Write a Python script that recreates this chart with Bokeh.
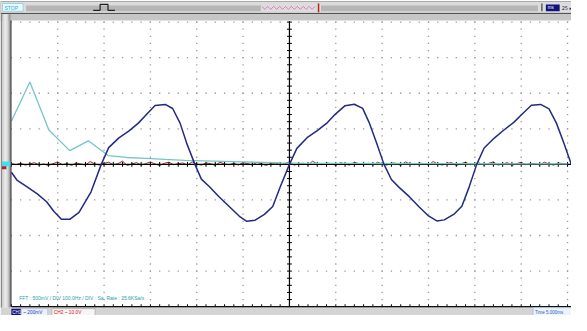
import numpy as np
from bokeh.plotting import figure
from bokeh.models import Range1d
from bokeh.core.properties import value
from bokeh.embed import file_html
from bokeh.resources import INLINE

# ---------------- data ----------------
ch1_time_ms = [-30.0, -29.4, -28.3, -27.2, -26.2, -25.4, -24.6, -23.7, -22.7, -21.4,
               -20.3, -19.5, -18.4, -17.3, -16.3, -15.5, -14.5, -13.4, -12.6, -11.8,
               -11.1, -10.2, -9.5, -8.6, -7.6, -6.5, -5.4, -4.6, -3.7, -2.7,
               -1.8, -1.0, 0.0,
               0.8, 1.9, 3.0, 4.1, 4.9, 6.0, 7.0, 7.9, 8.6, 9.4,
               10.2, 11.0, 11.8, 12.9, 14.0, 15.0, 15.9, 16.7, 17.8, 18.6,
               19.4, 20.2,
               21.0, 22.1, 23.1, 24.2, 25.0, 26.1, 27.1, 28.0, 28.8, 29.6, 30.4]
ch1_mv = [-44, -88, -127, -166, -210, -265, -309, -309, -270, -154,
          0, 94, 149, 188, 232, 276, 331, 337, 314, 232,
          121, 0, -83, -127, -182, -237, -292, -320, -314, -281,
          -237, -127, 0,
          90, 150, 190, 235, 280, 330, 338, 315, 235, 120,
          0, -85, -128, -180, -240, -290, -318, -312, -278, -235,
          -125, 0,
          92, 148, 192, 236, 278, 332, 337, 312, 232, 120, 0]

fft_freq_hz = [0, 40, 81, 126, 166, 209, 249, 291, 332, 374, 415, 457, 498, 540, 581,
               622, 664, 705, 747, 788, 830, 871, 913, 954, 996, 1037, 1079, 1120, 1162, 1200]
fft_mv = [607, 1159, 483, 193, 331, 124, 97, 83, 69, 55, 48, 41, 34, 28, 21,
          17, 15, 14, 13, 12, 12, 11, 10, 10, 9, 9, 8, 8, 8, 7]

ch2_volts = [0.2, -0.1, 0.3, -0.2, 0.1, 0.5, -0.2, 0.1, -0.3, 0.2,
             0.7, -0.1, 0.2, -0.3, 0.4, 0.1, -0.2, 0.8, 0.1, -0.2,
             0.3, 0.6, -0.1, 0.2, 0.9, -0.3, 0.1, 0.5, -0.2, 0.2,
             0.7, 0.1, -0.3, 0.3, 0.6, -0.1, 0.2, 0.4, -0.2, 0.7,
             0.1, -0.2, 0.4, 0.2, -0.3, 0.6, 0.1, -0.1, 0.3, -0.2,
             0.5, 0.2, -0.2, 0.6, 0.1, -0.3, 0.3, 0.4, -0.1, 0.2,
             0.7, -0.2, 0.1, 0.3, -0.2, 0.9, 0.1, -0.1, 0.4, 0.2,
             -0.3, 0.5, 0.1, -0.2, 0.6, 0.2, -0.1, 0.3, -0.2, 0.6,
             0.1, -0.2, 0.4, 0.3, -0.3, 0.7, 0.1, -0.1, 0.4, 0.2,
             -0.2, 0.8, 0.1, -0.2, 0.3, 0.5, -0.3, 0.2, 0.6, -0.1,
             0.2, 0.4, -0.2, 0.3, 0.7, -0.2, 0.1, 0.5, -0.3, 0.2,
             0.6, -0.1, 0.3, 0.2, -0.2, 0.6, 0.1, -0.2, 0.4, 0.2, 0.1]
ch2_time_ms = np.linspace(-30, 30, len(ch2_volts))

fft_label = "FFT : 500mV / DIV    100.0Hz / DIV  :  Sa. Rate : 25.6KSa/s"
ch1_label = "~ 200mV"
ch2_label = "CH2 ~ 10.0V"
time_label = "Time 5.000ms"

TIME_PER_DIV = 5.0      # ms / div
CH1_PER_DIV = 200.0     # mV / div
CH2_PER_DIV = 10.0      # V / div
FFT_V_PER_DIV = 500.0   # mV / div
FFT_F_PER_DIV = 100.0   # Hz / div

# ---------------- screen geometry (reference pixels) ----------------
GX0, GDX, GY0, GDY = 19.0, 47.0, 177.0, 36.25


def dx(r):
    return (r - GX0) / GDX


def dy(r):
    return (GY0 - r) / GDY


XL, XR = dx(8), dx(587)
YB, YT = dy(331), dy(10)

p = figure(width=571, height=315, x_range=Range1d(XL, XR), y_range=Range1d(YB, YT),
           output_backend="svg", toolbar_location=None, min_border=0,
           x_axis_location=None, y_axis_location=None)
p.grid.visible = False
p.outline_line_color = None
p.background_fill_color = "white"
p.border_fill_color = "white"

p.extra_x_ranges = {
    "time": Range1d((XL - 6) * TIME_PER_DIV, (XR - 6) * TIME_PER_DIV),
    "freq": Range1d(XL * FFT_F_PER_DIV, XR * FFT_F_PER_DIV),
}
p.extra_y_ranges = {
    "ch1": Range1d(YB * CH1_PER_DIV, YT * CH1_PER_DIV),
    "ch2": Range1d(YB * CH2_PER_DIV, YT * CH2_PER_DIV),
    "fft": Range1d(YB * FFT_V_PER_DIV, YT * FFT_V_PER_DIV),
}

# ---------------- dotted graticule ----------------
minor_x = np.round(np.arange(0, 12.001, 0.2), 3)
minor_y = np.round(np.arange(-4, 4.001, 0.2), 3)
dots_x, dots_y = [], []
for yl in range(-3, 5):
    if yl == 0:
        continue
    dots_x += list(minor_x)
    dots_y += [yl] * len(minor_x)
for xl in range(1, 13):
    if xl == 6:
        continue
    dots_x += [xl] * len(minor_y)
    dots_y += list(minor_y)
p.scatter(dots_x, dots_y, marker="square", size=1.3, fill_color="#9a9a9a", line_color=None)

# ---------------- traces ----------------
p.line(ch2_time_ms, ch2_volts, x_range_name="time", y_range_name="ch2",
       line_color="#a02a24", line_width=1)

# center axes with ticks
p.segment(x0=[0], y0=[0], x1=[XR], y1=[0], line_color="black", line_width=1.2)
p.segment(x0=[6], y0=[dy(31)], x1=[6], y1=[-4], line_color="black", line_width=1.2)
tx = 2.5 / GDX
ty = 2.5 / GDY
p.segment(x0=minor_x, y0=-ty, x1=minor_x, y1=ty, line_color="black", line_width=1)
p.segment(x0=6 - tx, y0=minor_y, x1=6 + tx, y1=minor_y, line_color="black", line_width=1)

p.line(fft_freq_hz, fft_mv, x_range_name="freq", y_range_name="fft",
       line_color="#74c6c6", line_width=1.3)
p.line(ch1_time_ms, ch1_mv, x_range_name="time", y_range_name="ch1",
       line_color="#232a82", line_width=1.5)

# ---------------- chrome ----------------
def box(l, r, t, b, fill, line=None, lw=1):
    p.quad(left=dx(l), right=dx(r), top=dy(t), bottom=dy(b), fill_color=fill,
           line_color=line, line_width=lw)


def hline(x0, x1, y, color, lw=1):
    p.segment(x0=[dx(x0)], y0=[dy(y)], x1=[dx(x1)], y1=[dy(y)], line_color=color, line_width=lw)


def vline(x, y0, y1, color, lw=1):
    p.segment(x0=[dx(x)], y0=[dy(y0)], x1=[dx(x)], y1=[dy(y1)], line_color=color, line_width=lw)


def label(x, y, s, color, size="5px", font="Liberation Sans"):
    p.text(x=[dx(x)], y=[dy(y)], text=[s], text_font=value(font), text_font_size=size,
           text_color=color, text_baseline="middle", text_align="left")


# top bar
box(8, 587, 11, 23, "#dcdcdc", "#a8a8a8")
hline(8, 587, 23.5, "#303030", 1.2)
box(8, 587, 24, 31, "#c6c6c6")
hline(19, 587, 30.5, "#e6e6e6", 1)
box(10, 31, 13, 21, "#eaf7fb", "#9ad4e6")
label(12, 17.2, "STOP", "#2ab0d8", "5px")
box(34, 272, 14, 21, "#b6b6b6")
hline(34, 272, 14.5, "#e4e4e4")
pulse_x = [102, 109, 109, 117, 117, 124]
pulse_y = [20, 20, 14, 14, 20, 20]
p.line([dx(v) for v in pulse_x], [dy(v) for v in pulse_y], line_color="#202020", line_width=1.2)
zig_x = list(np.arange(273, 330, 3))
zig_y = [16 if i % 2 == 0 else 19 for i in range(len(zig_x))]
p.line([dx(v) for v in zig_x], [dy(v) for v in zig_y], line_color="#e060b8", line_width=0.8)
vline(330.5, 13, 22, "#c02020", 1.5)
box(333, 553, 14, 21, "#b6b6b6")
hline(333, 553, 14.5, "#e4e4e4")
vline(557, 13, 21, "#202020", 1)
box(561, 575, 14, 21, "#12127e")
label(563, 17.5, "ms", "#ffffff", "4.5px")
label(577, 17.5, "25 \u25b8", "#202060", "5px", "DejaVu Sans")

# left bar
box(8, 10, 24, 323, "#8a8a8a")
box(10, 16, 24, 323, "#d8d8d8")
box(12, 14, 24, 323, "#ececec")
box(16, 18.5, 24, 323, "#a4a4a4")
vline(18.6, 30.5, 322, "#404040", 1.2)
# channel markers
box(9.5, 18, 174, 179, "#40e0ea")
box(9.5, 14, 179, 182, "#a02828")

# bottom axis
hline(19, 587, 322, "#101010", 1.5)
p.segment(x0=minor_x, y0=dy(322), x1=minor_x, y1=dy(319.5), line_color="#101010", line_width=1)

# FFT label inside plot
label(27, 313.5, fft_label, "#2aa0a8", "5px")

# bottom status bar
box(8, 587, 323, 331, "#d4d4d4")
box(19, 29, 324, 331, "#12127e")
label(20, 327.8, "CH1", "#ffffff", "4.5px")
box(29, 56, 324, 331, "#eef2fc", "#b8c0dc")
label(31, 327.8, ch1_label, "#2040c0", "4.8px")
box(60, 104, 324, 331, "#f6f6f6", "#b8b8b8")
label(62, 327.8, ch2_label, "#d02020", "4.8px")
box(548, 587, 323, 331, "#eef4fc", "#a8c0dc")
label(550, 327.5, time_label, "#3060c0", "4.5px")

open("out.html", "w").write(file_html(p, INLINE))
